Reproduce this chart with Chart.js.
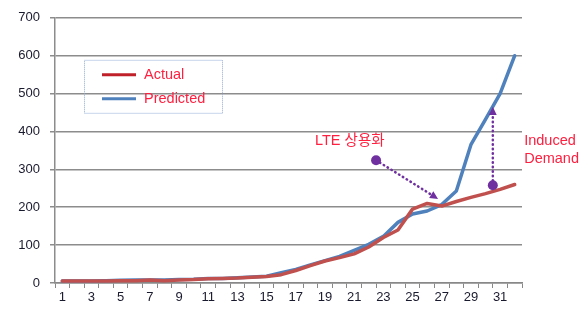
<!DOCTYPE html>
<html>
<head>
<meta charset="utf-8">
<script src="https://cdn.jsdelivr.net/npm/chart.js@4/dist/chart.umd.min.js"></script>
<style>
    html, body { margin: 0; padding: 0; background: #fff; }
    #wrap { width: 585px; height: 310px; }
</style>
</head>
<body>
<div id="wrap"><canvas id="grafico"></canvas></div>
<script>
var FONT = "'Liberation Sans', Arial, 'Noto Sans CJK KR', sans-serif"

var categorias = []
for (var i = 1; i <= 32; i++) categorias.push(String(i))

var actual = [5, 5, 5, 5, 6, 6, 8, 6, 8, 9, 11, 12, 13, 15, 17, 22, 33, 46, 58, 67, 77, 95, 120, 140, 195, 210, 203, 215, 226, 236, 247, 260]
var predicted = [5, 5, 5, 6, 7, 8, 8, 8, 9, 10, 12, 12, 14, 16, 18, 27, 36, 48, 59, 70, 86, 102, 123, 160, 182, 190, 207, 243, 365, 432, 500, 600]

var yTicks = [0, 100, 200, 300, 400, 500, 600, 700]

// anotaciones en coordenadas de datos (indice de categoria, valor)
var flechaLTE = {desde: [21.5, 324], hasta: [25.75, 222]}
var flechaDemanda = {desde: [29.5, 258], hasta: [29.5, 465]}
var textoLTE = {texto: "LTE 상용화", pos: [19.7, 376]}
var textoDemanda = {lineas: ["Induced", "Demand"], pos: [31.65, 376]}

var PURPURA = "#7030a0"
var ROJO_TEXTO = "#ff2040"

function flecha(ctx, x1, y1, x2, y2) {
    ctx.save()
    ctx.strokeStyle = PURPURA
    ctx.fillStyle = PURPURA
    ctx.lineWidth = 2.5
    ctx.lineCap = "round"
    ctx.setLineDash([0.5, 4])
    var ang = Math.atan2(y2 - y1, x2 - x1)
    var head = 9
    ctx.beginPath()
    ctx.moveTo(x1, y1)
    ctx.lineTo(x2 - Math.cos(ang) * head * 0.8, y2 - Math.sin(ang) * head * 0.8)
    ctx.stroke()
    ctx.setLineDash([])
    ctx.beginPath()
    ctx.arc(x1, y1, 5, 0, Math.PI * 2)
    ctx.fill()
    ctx.beginPath()
    ctx.moveTo(x2, y2)
    ctx.lineTo(x2 - Math.cos(ang - 0.45) * head, y2 - Math.sin(ang - 0.45) * head)
    ctx.lineTo(x2 - Math.cos(ang + 0.45) * head, y2 - Math.sin(ang + 0.45) * head)
    ctx.closePath()
    ctx.fill()
    ctx.restore()
}

var pluginAnotaciones = {
    id: "anotaciones",
    afterDatasetsDraw: function (chart) {
        var ctx = chart.ctx
        var sx = chart.scales.x, sy = chart.scales.y
        var px = function (p) { return [sx.getPixelForValue(p[0]), sy.getPixelForValue(p[1])] }

        var a = px(flechaLTE.desde), b = px(flechaLTE.hasta)
        flecha(ctx, a[0], a[1], b[0], b[1])
        a = px(flechaDemanda.desde); b = px(flechaDemanda.hasta)
        flecha(ctx, a[0], a[1], b[0], b[1])

        ctx.save()
        ctx.fillStyle = ROJO_TEXTO
        ctx.font = "14.5px " + FONT
        ctx.textBaseline = "middle"
        ctx.textAlign = "center"
        var t = px(textoLTE.pos)
        ctx.fillText(textoLTE.texto, t[0], t[1])
        ctx.textAlign = "left"
        t = px(textoDemanda.pos)
        textoDemanda.lineas.forEach(function (l, n) {
            ctx.fillText(l, t[0], t[1] + n * 18)
        })

        // leyenda dentro del area del grafico
        var area = chart.chartArea
        var lx = area.left + 29, ly = area.top + 42
        ctx.strokeStyle = "#8eaad6"
        ctx.lineWidth = 1
        ctx.setLineDash([1, 1])
        ctx.strokeRect(lx + 0.5, ly + 0.5, 138, 53)
        ctx.setLineDash([])
        ctx.font = "14.5px " + FONT
        chart.data.datasets.forEach(function (ds, n) {
            var y = ly + 15 + n * 24
            ctx.strokeStyle = ds.legendColor
            ctx.lineWidth = 3
            ctx.beginPath()
            ctx.moveTo(lx + 18, y)
            ctx.lineTo(lx + 52, y)
            ctx.stroke()
            ctx.fillStyle = ROJO_TEXTO
            ctx.fillText(ds.label, lx + 60, y)
        })
        ctx.restore()
    }
}

new Chart("grafico", {
    type: "line",
    data: {
        labels: categorias,
        datasets: [
            {label: "Actual", data: actual, borderColor: "#c0504d", legendColor: "#c0202a", borderWidth: 3.5,
                pointRadius: 0, tension: 0, borderJoinStyle: "round", borderCapStyle: "round"},
            {label: "Predicted", data: predicted, borderColor: "#4f81bd", legendColor: "#4f81bd", borderWidth: 3.5,
                pointRadius: 0, tension: 0, borderJoinStyle: "round", borderCapStyle: "round"}
        ]
    },
    options: {
        responsive: true,
        maintainAspectRatio: false,
        animation: false,
        layout: {padding: {left: 0, right: 63, top: 11, bottom: 0}},
        plugins: {legend: {display: false}, tooltip: {enabled: false}},
        scales: {
            x: {
                offset: true,
                grid: {offset: true, drawOnChartArea: false, drawTicks: true, tickLength: 5, color: "#888", lineWidth: 1},
                border: {color: "#888", width: 1.5},
                ticks: {
                    autoSkip: false, maxRotation: 0, color: "#1a1a2e", padding: 2,
                    font: {family: FONT, size: 13},
                    callback: function (v, i) { return i % 2 === 0 ? categorias[i] : "" }
                },
                afterFit: function (s) { s.height = 27 }
            },
            y: {
                min: 0, max: 700,
                afterBuildTicks: function (s) { s.ticks = yTicks.map(function (v) { return {value: v} }) },
                grid: {color: "#8c8c8c", lineWidth: 1.5, tickLength: 5},
                border: {color: "#8c8c8c", width: 1.5},
                ticks: {color: "#1a1a2e", padding: 10, font: {family: FONT, size: 13}},
                afterFit: function (s) { s.width = 55 }
            }
        }
    },
    plugins: [pluginAnotaciones]
})
</script>
</body>
</html>
